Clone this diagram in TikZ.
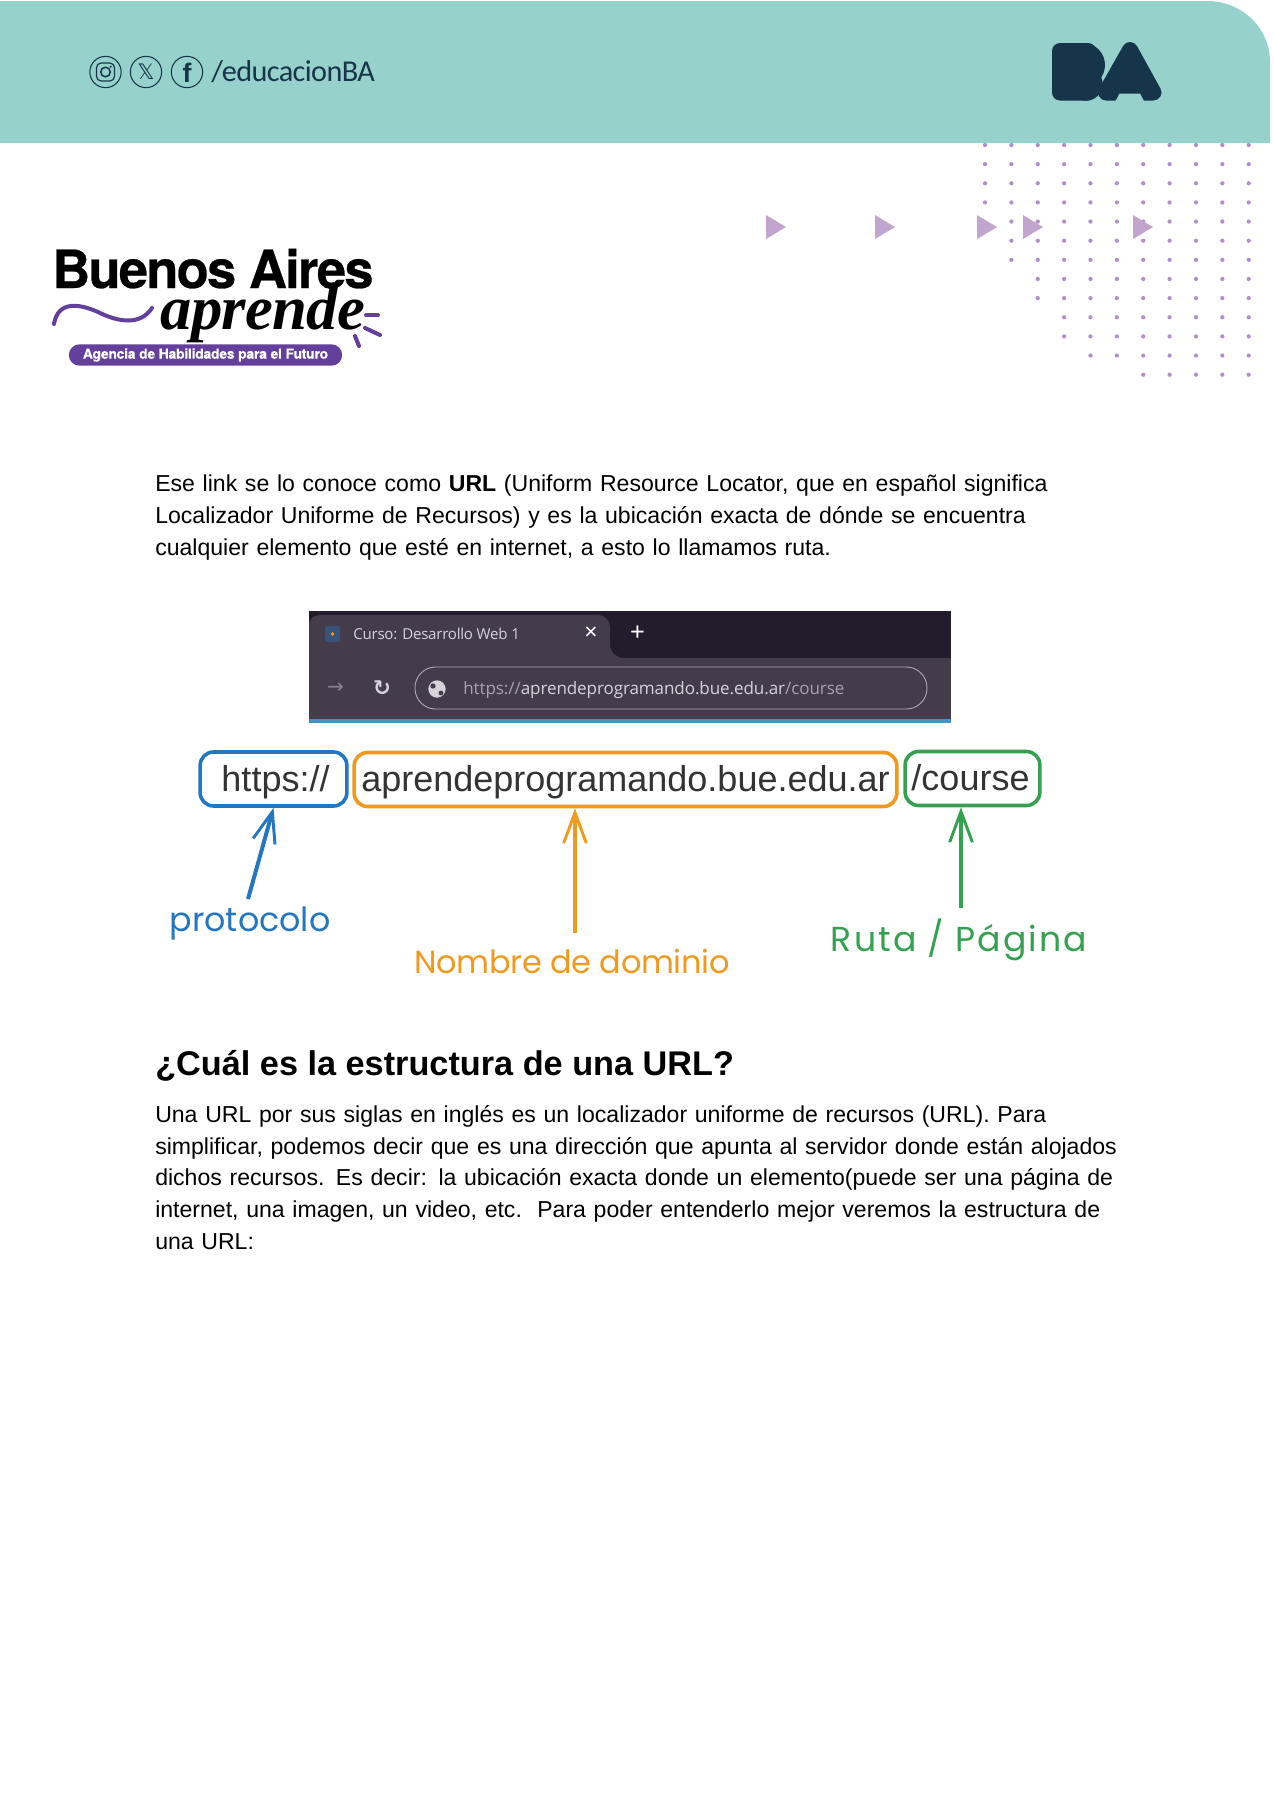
\documentclass[tikz,border=0pt]{standalone}
\usepackage{fontspec}
\usetikzlibrary{arrows.meta,calc}
\setmainfont{Liberation Sans}
\newfontfamily\handfont{Poppins}
\newfontfamily\ofont{Open Sans}
\newfontfamily\cfont{Carlito}
\newfontfamily\hfont{TeX Gyre Heros}
\newfontfamily\djv{DejaVu Sans}
\newfontfamily\lserif{Liberation Serif}
\definecolor{teal1}{HTML}{97D1CB}
\definecolor{navy1}{HTML}{17354A}
\definecolor{lilac}{HTML}{C2A5CF}
\definecolor{dotc}{HTML}{B08FCB}
\definecolor{purp}{HTML}{643F9B}
\definecolor{chromeA}{HTML}{231C2C}
\definecolor{chromeB}{HTML}{443B4B}
\definecolor{chromeT}{HTML}{D6D2DA}
\definecolor{chromeD}{HTML}{A8A2AC}
\definecolor{blueL}{HTML}{2476BE}
\definecolor{orangeL}{HTML}{EE9A1E}
\definecolor{greenL}{HTML}{35A04F}
\definecolor{urltext}{HTML}{333333}
\tikzset{
 x=0.75pt,y=-0.75pt,
 bodytext/.style={inner sep=0pt,anchor=north west,align=left,text width=800pt,font=\fontsize{17.3}{23.8}\selectfont,text=black},
 urlbox/.style={draw,line width=2.7pt,rounded corners=10pt,fill=white,inner sep=0pt,minimum height=40.5pt,text height=21pt,text depth=2.8pt,text=urltext,font=\fontsize{27}{30}\selectfont},
 hand/.style={inner sep=0pt,font=\handfont\fontsize{25}{28}\selectfont},
 arr/.style={line width=3pt,-{Straight Barb[length=23pt,width=17pt,line width=2.2pt]}},
 tri/.style={fill=lilac,draw=none},
 icon/.style={draw=navy1,line width=0.8pt,circle,minimum size=23.5pt,inner sep=0pt},
 chrometext/.style={inner sep=0pt,text=chromeT},
}
\begin{document}
\begin{tikzpicture}
\useasboundingbox (0,0) rectangle (1274,1800);
% header
\fill[teal1] (0,1) -- (1207,1) .. controls (1242,1) and (1270,28) .. (1270,62) -- (1270,143) -- (0,143) -- cycle;
% dots
\foreach \r/\xs in {0/0,1/0,2/0,3/0,4/1,5/1,6/1,7/2,8/2,9/3,10/3,11/4,12/6}{
 \foreach \c in {\xs,...,10}{
  \fill[dotc] ({985+26.37*\c},{145+19.14*\r}) circle (1.6pt);
 }
}
% icons
\node[icon] (ig) at (105.5,72) {};
\draw[navy1,line width=0.9pt,rounded corners=3.5pt] (96.5,63) rectangle (114.5,81);
\draw[navy1,line width=1.1pt] (105.5,72) circle (3.6pt);
\fill[navy1] (110.7,66.7) circle (0.9pt);
\node[icon] (xi) at (146,72) {};
\node[inner sep=0pt,text=navy1,font=\djv\fontsize{16}{16}\selectfont] (xg) at (146,72) {𝕏};
\node[icon] (fb) at (187,72) {};
\node[inner sep=0pt,text=navy1,font=\bfseries\fontsize{20}{20}\selectfont] (fg) at (187,72.5) {f};
\node[inner sep=0pt,anchor=base west,text=navy1,font=\cfont\fontsize{22.7}{24}\selectfont] (handle) at (211,81) {\addfontfeatures{LetterSpace=-2}/educacionBA};
% BA logo
\begin{scope}[xshift=0.75pt]
\fill[navy1,rounded corners=6pt] (1051,43) rectangle (1095,100.5);
\fill[navy1] (1082,65) circle[radius=16.5pt];
\fill[navy1] (1085,84) circle[radius=12.5pt];
\draw[navy1,fill=navy1,line width=12pt,line join=round] (1129,50) -- (1105,92.5) -- (1152.5,92.5) -- cycle;
\fill[teal1] (1114,102) -- (1118.5,93.5) -- (1139,93.5) -- (1143.5,102) -- cycle;
\end{scope}
% triangles
\foreach \x in {766,875,977,1023,1133}{
 \fill[tri] (\x,215) -- ++(20,12) -- ++(-20,12) -- cycle;
}
% logo
\node[inner sep=0pt,anchor=base west,text=black,font=\hfont\bfseries\fontsize{39.5}{42}\selectfont] (ba) at (52,288) {\addfontfeatures{LetterSpace=-3.5,FakeBold=0.5}Buenos Aires};
\node[inner sep=0pt,anchor=base west,text=black,font=\lserif\bfseries\itshape\fontsize{47}{52}\selectfont] (apr) at (160,329) {\addfontfeatures{LetterSpace=-1}aprende};
\draw[purp,line width=3pt,line cap=round] (54,324) .. controls (58,300) and (80,304) .. (98,312) .. controls (118,322) and (140,326) .. (152,308);
\draw[purp,line width=3pt,line cap=round] (366,315) -- (378,315);
\draw[purp,line width=3pt,line cap=round] (365,328) -- (380,335);
\draw[purp,line width=3pt,line cap=round] (355,336) -- (359,346);
\node[fill=purp,rounded corners=8pt,minimum width=205pt,minimum height=16pt,inner sep=0pt,text=white,font=\hfont\bfseries\fontsize{10.4}{12}\selectfont] (tag) at (205.5,355) {\addfontfeatures{LetterSpace=-1.5,FakeBold=0.3}Agencia de Habilidades para el Futuro};
% paragraph 1
\node[bodytext] (p1) at (155,475) {Ese link se lo conoce como \textbf{URL} (Uniform Resource Locator, que en español significa\\Localizador Uniforme de Recursos) y es la ubicación exacta de dónde se encuentra\\cualquier elemento que esté en internet, a esto lo llamamos ruta.};
% browser
\fill[chromeA] (309,611) rectangle (951,723);
\fill[chromeB] (309,658) rectangle (951,719);
\fill[chromeB] (309,658) -- (309,625) .. controls (309,619) and (314,615) .. (320,615) -- (598,615) .. controls (605,615) and (610,620) .. (610,627) -- (610,644) .. controls (610,652) and (616,658) .. (624,658) -- cycle;
\fill[blueL!70!teal1] (309,719) rectangle (951,723);
\fill[blueL!40!chromeB,rounded corners=1pt] (325,626) rectangle (340,642);
\fill[orangeL] (332.5,634) circle (1.4pt);
\node[chrometext,anchor=west,font=\ofont\fontsize{11.3}{13}\selectfont] (tabt) at (353,634) {\addfontfeatures{LetterSpace=-1.5}Curso: Desarrollo Web 1};
\node[chrometext,text=white,font=\fontsize{17}{17}\selectfont] (tabx) at (591,633) {×};
\node[chrometext,text=white,font=\fontsize{19}{19}\selectfont] (tabp) at (637.5,633) {+};
\node[draw=chromeT!70!chromeB,line width=0.7pt,rounded corners=15.5pt,minimum width=384pt,minimum height=31.5pt,inner sep=0pt] (bar) at (671,688) {};
\node[chrometext,text=chromeD!70!chromeB,font=\djv\fontsize{15}{15}\selectfont] (bk) at (335.5,688) {→};
\node[chrometext,text=chromeT,font=\djv\bfseries\fontsize{16}{16}\selectfont] (rl) at (382,688) {↻};
\fill[chromeT] (437,689) circle (6.5pt);
\fill[chromeB] (433,686) circle (2pt);
\fill[chromeB] (441,693) circle (1.8pt);
\node[chrometext,anchor=west,font=\ofont\fontsize{12.8}{15}\selectfont] (urlt) at (463,690) {\addfontfeatures{LetterSpace=-0.6}\textcolor{chromeD}{https://}aprendeprogramando.bue.edu.ar\textcolor{chromeD}{/course}};
% url boxes
\node[urlbox,draw=blueL,minimum width=110pt] (bh) at (273.5,779) {\hspace*{3pt}https://};
\node[urlbox,draw=orangeL,minimum width=407pt] (bd) at (625.5,779.5) {aprendeprogramando.bue.edu.ar};
\node[urlbox,draw=greenL,minimum width=101pt] (bc) at (972.5,778.5) {\hspace*{-3pt}/course};
% labels
\node[hand,text=blueL] (lp) at (250,923) {protocolo};
\node[hand,text=orangeL] (ld) at (572,961) {\fontsize{24}{28}\selectfont\addfontfeatures{LetterSpace=-1}Nombre de dominio};
\node[hand,text=greenL] (lr) at (959,940) {\fontsize{26}{28}\selectfont\addfontfeatures{LetterSpace=6}Ruta / Página};
% arrows
\coordinate (ap) at (248,899);
\coordinate (ad) at (575,933);
\coordinate (ar) at (961,908);
\draw[arr,draw=blueL] (ap) -- (bh.south);
\draw[arr,draw=orangeL] (ad) -- (ad |- bd.south);
\draw[arr,draw=greenL] (ar) -- (ar |- bc.south);
% heading and paragraph 2
\node[inner sep=0pt,anchor=base west,text=black,font=\bfseries\fontsize{25.7}{30}\selectfont] (h2) at (155,1075) {¿Cuál es la estructura de una URL?};
\node[bodytext] (p2) at (155,1105) {Una URL por sus siglas en inglés es un localizador uniforme de recursos (URL). Para\\simplificar, podemos decir que es una dirección que apunta al servidor donde están alojados\\dichos recursos. Es decir: la ubicación exacta donde un elemento(puede ser una página de\\internet, una imagen, un video, etc.\ \ Para poder entenderlo mejor veremos la estructura de\\una URL:};
\end{tikzpicture}
\end{document}
